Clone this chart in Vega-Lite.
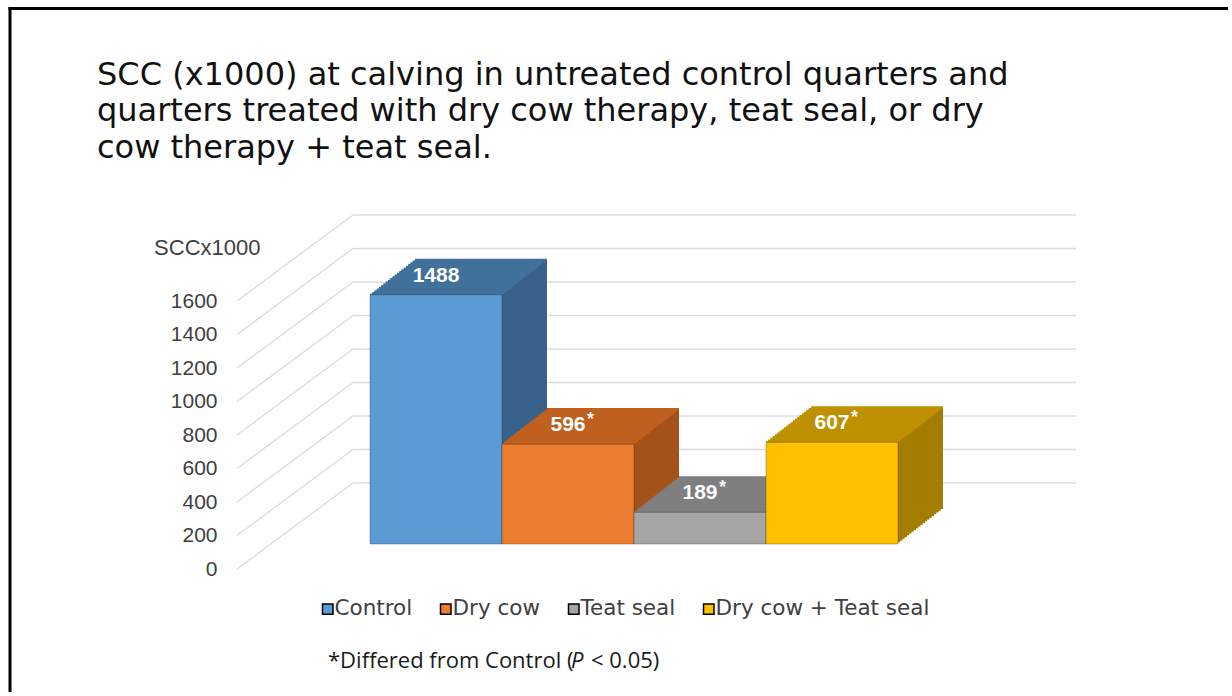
{
  "$schema": "https://vega.github.io/schema/vega-lite/v6.json",
  "width": 528,
  "height": 268,
  "autosize": {"type": "none"},
  "padding": {"left": 370, "top": 276, "right": 334, "bottom": 152},
  "background": "white",
  "config": {"view": {"stroke": null}},
  "title": {
    "text": ["SCC (x1000) at calving in untreated control quarters and", "quarters treated with dry cow therapy, teat seal, or dry", "cow therapy + teat seal."],
    "anchor": "start", "frame": "group", "dx": -273, "dy": 159, "offset": 0,
    "font": "DejaVu Sans", "fontSize": 32, "fontWeight": "normal", "color": "#111111", "lineHeight": 36.5
  },
  "datasets": {
    "grid": [{"v": 0}, {"v": 200}, {"v": 400}, {"v": 600}, {"v": 800}, {"v": 1000}, {"v": 1200}, {"v": 1400}, {"v": 1600}]
  },
  "data": {"values": [
    {"treatment": "Control", "scc": 1488, "label": "1488", "star": ""},
    {"treatment": "Dry cow", "scc": 596, "label": "596", "star": "*"},
    {"treatment": "Teat seal", "scc": 189, "label": "189", "star": "*"},
    {"treatment": "Dry cow + Teat seal", "scc": 607, "label": "607", "star": "*"}
  ]},
  "encoding": {
    "x": {"field": "treatment", "type": "nominal", "axis": null,
      "scale": {"domain": ["Control", "Dry cow", "Teat seal", "Dry cow + Teat seal"], "paddingInner": 0, "paddingOuter": 0}},
    "y": {"field": "scc", "type": "quantitative",
      "scale": {"domain": [0, 1600], "nice": false, "zero": true},
      "axis": {"title": "SCCx1000", "titleAngle": 0, "titleAlign": "right", "titleBaseline": "alphabetic", "titleX": -110, "titleY": -22,
        "titleFont": "Liberation Sans", "titleFontSize": 22, "titleFontWeight": "normal", "titleColor": "#404040",
        "values": [0, 200, 400, 600, 800, 1000, 1200, 1400, 1600], "format": "d", "ticks": false, "domain": false, "grid": false,
        "labelFont": "Liberation Sans", "labelFontSize": 21, "labelColor": "#404040", "labelPadding": 153, "labelOffset": 25,
        "labelFlush": false, "labelOverlap": false}}
  },
  "layer": [
    {"data": {"name": "grid"}, "transform": [{"filter": "datum.v == 1600"}],
     "mark": {"type": "rule", "stroke": "#000000", "strokeWidth": 3, "strokeCap": "butt", "xOffset": -361.5, "x2Offset": 330, "yOffset": -267.5},
     "encoding": {"x": {"datum": "Control", "type": "nominal", "bandPosition": 0}, "x2": {"datum": "Dry cow + Teat seal", "bandPosition": 1}, "y": {"field": "v", "type": "quantitative"}}},
    {"data": {"name": "grid"}, "transform": [{"filter": "datum.v == 1600"}],
     "mark": {"type": "rule", "stroke": "#000000", "strokeWidth": 3, "strokeCap": "butt", "xOffset": -360, "yOffset": -269, "y2Offset": 416},
     "encoding": {"x": {"datum": "Control", "type": "nominal", "bandPosition": 0}, "y": {"field": "v", "type": "quantitative"}, "y2": {"field": "v"}}},
    {"data": {"name": "grid"},
     "mark": {"type": "rule", "color": "#DCDCDC", "strokeWidth": 1.3, "xOffset": -17, "x2Offset": 178, "yOffset": -61},
     "encoding": {"x": {"datum": "Control", "type": "nominal", "bandPosition": 0}, "x2": {"datum": "Dry cow + Teat seal", "bandPosition": 1}, "y": {"field": "v", "type": "quantitative"}}},
    {"data": {"name": "grid"},
     "mark": {"type": "rule", "color": "#DCDCDC", "strokeWidth": 1.3, "xOffset": -133, "x2Offset": -17, "yOffset": 25, "y2Offset": -61},
     "encoding": {"x": {"datum": "Control", "type": "nominal", "bandPosition": 0}, "x2": {"datum": "Control", "bandPosition": 0}, "y": {"field": "v", "type": "quantitative"}, "y2": {"field": "v"}}},

    {"mark": {"type": "bar", "xOffset": 45, "yOffset": -35, "y2Offset": -35}, "encoding": {"fill": {"field": "treatment", "type": "nominal", "legend": null, "scale": {"range": ["#386189", "#A3531A", "#A47C00", "#6E6E6E"]}}}},
    {"mark": {"type": "bar", "xOffset": 42.75, "yOffset": -33.25, "y2Offset": -33.25}, "encoding": {"fill": {"field": "treatment", "type": "nominal", "legend": null}}},
    {"mark": {"type": "bar", "xOffset": 40.5, "yOffset": -31.5, "y2Offset": -31.5}, "encoding": {"fill": {"field": "treatment", "type": "nominal", "legend": null}}},
    {"mark": {"type": "bar", "xOffset": 38.25, "yOffset": -29.75, "y2Offset": -29.75}, "encoding": {"fill": {"field": "treatment", "type": "nominal", "legend": null}}},
    {"mark": {"type": "bar", "xOffset": 36, "yOffset": -28, "y2Offset": -28}, "encoding": {"fill": {"field": "treatment", "type": "nominal", "legend": null}}},
    {"mark": {"type": "bar", "xOffset": 33.75, "yOffset": -26.25, "y2Offset": -26.25}, "encoding": {"fill": {"field": "treatment", "type": "nominal", "legend": null}}},
    {"mark": {"type": "bar", "xOffset": 31.5, "yOffset": -24.5, "y2Offset": -24.5}, "encoding": {"fill": {"field": "treatment", "type": "nominal", "legend": null}}},
    {"mark": {"type": "bar", "xOffset": 29.25, "yOffset": -22.75, "y2Offset": -22.75}, "encoding": {"fill": {"field": "treatment", "type": "nominal", "legend": null}}},
    {"mark": {"type": "bar", "xOffset": 27, "yOffset": -21, "y2Offset": -21}, "encoding": {"fill": {"field": "treatment", "type": "nominal", "legend": null}}},
    {"mark": {"type": "bar", "xOffset": 24.75, "yOffset": -19.25, "y2Offset": -19.25}, "encoding": {"fill": {"field": "treatment", "type": "nominal", "legend": null}}},
    {"mark": {"type": "bar", "xOffset": 22.5, "yOffset": -17.5, "y2Offset": -17.5}, "encoding": {"fill": {"field": "treatment", "type": "nominal", "legend": null}}},
    {"mark": {"type": "bar", "xOffset": 20.25, "yOffset": -15.75, "y2Offset": -15.75}, "encoding": {"fill": {"field": "treatment", "type": "nominal", "legend": null}}},
    {"mark": {"type": "bar", "xOffset": 18, "yOffset": -14, "y2Offset": -14}, "encoding": {"fill": {"field": "treatment", "type": "nominal", "legend": null}}},
    {"mark": {"type": "bar", "xOffset": 15.75, "yOffset": -12.25, "y2Offset": -12.25}, "encoding": {"fill": {"field": "treatment", "type": "nominal", "legend": null}}},
    {"mark": {"type": "bar", "xOffset": 13.5, "yOffset": -10.5, "y2Offset": -10.5}, "encoding": {"fill": {"field": "treatment", "type": "nominal", "legend": null}}},
    {"mark": {"type": "bar", "xOffset": 11.25, "yOffset": -8.75, "y2Offset": -8.75}, "encoding": {"fill": {"field": "treatment", "type": "nominal", "legend": null}}},
    {"mark": {"type": "bar", "xOffset": 9, "yOffset": -7, "y2Offset": -7}, "encoding": {"fill": {"field": "treatment", "type": "nominal", "legend": null}}},
    {"mark": {"type": "bar", "xOffset": 6.75, "yOffset": -5.25, "y2Offset": -5.25}, "encoding": {"fill": {"field": "treatment", "type": "nominal", "legend": null}}},
    {"mark": {"type": "bar", "xOffset": 4.5, "yOffset": -3.5, "y2Offset": -3.5}, "encoding": {"fill": {"field": "treatment", "type": "nominal", "legend": null}}},
    {"mark": {"type": "bar", "xOffset": 2.25, "yOffset": -1.75, "y2Offset": -1.75}, "encoding": {"fill": {"field": "treatment", "type": "nominal", "legend": null}}},

    {"mark": {"type": "bar", "fillOpacity": 0, "strokeWidth": 2.2, "xOffset": 45, "yOffset": -35, "y2Offset": -35}, "encoding": {"y2": {"field": "scc"}, "stroke": {"field": "treatment", "type": "nominal", "legend": null, "scale": {"range": ["#42719C", "#C0611F", "#BF9000", "#7F7F7F"]}}}},
    {"mark": {"type": "bar", "fillOpacity": 0, "strokeWidth": 2.2, "xOffset": 42.75, "yOffset": -33.25, "y2Offset": -33.25}, "encoding": {"y2": {"field": "scc"}, "stroke": {"field": "treatment", "type": "nominal", "legend": null}}},
    {"mark": {"type": "bar", "fillOpacity": 0, "strokeWidth": 2.2, "xOffset": 40.5, "yOffset": -31.5, "y2Offset": -31.5}, "encoding": {"y2": {"field": "scc"}, "stroke": {"field": "treatment", "type": "nominal", "legend": null}}},
    {"mark": {"type": "bar", "fillOpacity": 0, "strokeWidth": 2.2, "xOffset": 38.25, "yOffset": -29.75, "y2Offset": -29.75}, "encoding": {"y2": {"field": "scc"}, "stroke": {"field": "treatment", "type": "nominal", "legend": null}}},
    {"mark": {"type": "bar", "fillOpacity": 0, "strokeWidth": 2.2, "xOffset": 36, "yOffset": -28, "y2Offset": -28}, "encoding": {"y2": {"field": "scc"}, "stroke": {"field": "treatment", "type": "nominal", "legend": null}}},
    {"mark": {"type": "bar", "fillOpacity": 0, "strokeWidth": 2.2, "xOffset": 33.75, "yOffset": -26.25, "y2Offset": -26.25}, "encoding": {"y2": {"field": "scc"}, "stroke": {"field": "treatment", "type": "nominal", "legend": null}}},
    {"mark": {"type": "bar", "fillOpacity": 0, "strokeWidth": 2.2, "xOffset": 31.5, "yOffset": -24.5, "y2Offset": -24.5}, "encoding": {"y2": {"field": "scc"}, "stroke": {"field": "treatment", "type": "nominal", "legend": null}}},
    {"mark": {"type": "bar", "fillOpacity": 0, "strokeWidth": 2.2, "xOffset": 29.25, "yOffset": -22.75, "y2Offset": -22.75}, "encoding": {"y2": {"field": "scc"}, "stroke": {"field": "treatment", "type": "nominal", "legend": null}}},
    {"mark": {"type": "bar", "fillOpacity": 0, "strokeWidth": 2.2, "xOffset": 27, "yOffset": -21, "y2Offset": -21}, "encoding": {"y2": {"field": "scc"}, "stroke": {"field": "treatment", "type": "nominal", "legend": null}}},
    {"mark": {"type": "bar", "fillOpacity": 0, "strokeWidth": 2.2, "xOffset": 24.75, "yOffset": -19.25, "y2Offset": -19.25}, "encoding": {"y2": {"field": "scc"}, "stroke": {"field": "treatment", "type": "nominal", "legend": null}}},
    {"mark": {"type": "bar", "fillOpacity": 0, "strokeWidth": 2.2, "xOffset": 22.5, "yOffset": -17.5, "y2Offset": -17.5}, "encoding": {"y2": {"field": "scc"}, "stroke": {"field": "treatment", "type": "nominal", "legend": null}}},
    {"mark": {"type": "bar", "fillOpacity": 0, "strokeWidth": 2.2, "xOffset": 20.25, "yOffset": -15.75, "y2Offset": -15.75}, "encoding": {"y2": {"field": "scc"}, "stroke": {"field": "treatment", "type": "nominal", "legend": null}}},
    {"mark": {"type": "bar", "fillOpacity": 0, "strokeWidth": 2.2, "xOffset": 18, "yOffset": -14, "y2Offset": -14}, "encoding": {"y2": {"field": "scc"}, "stroke": {"field": "treatment", "type": "nominal", "legend": null}}},
    {"mark": {"type": "bar", "fillOpacity": 0, "strokeWidth": 2.2, "xOffset": 15.75, "yOffset": -12.25, "y2Offset": -12.25}, "encoding": {"y2": {"field": "scc"}, "stroke": {"field": "treatment", "type": "nominal", "legend": null}}},
    {"mark": {"type": "bar", "fillOpacity": 0, "strokeWidth": 2.2, "xOffset": 13.5, "yOffset": -10.5, "y2Offset": -10.5}, "encoding": {"y2": {"field": "scc"}, "stroke": {"field": "treatment", "type": "nominal", "legend": null}}},
    {"mark": {"type": "bar", "fillOpacity": 0, "strokeWidth": 2.2, "xOffset": 11.25, "yOffset": -8.75, "y2Offset": -8.75}, "encoding": {"y2": {"field": "scc"}, "stroke": {"field": "treatment", "type": "nominal", "legend": null}}},
    {"mark": {"type": "bar", "fillOpacity": 0, "strokeWidth": 2.2, "xOffset": 9, "yOffset": -7, "y2Offset": -7}, "encoding": {"y2": {"field": "scc"}, "stroke": {"field": "treatment", "type": "nominal", "legend": null}}},
    {"mark": {"type": "bar", "fillOpacity": 0, "strokeWidth": 2.2, "xOffset": 6.75, "yOffset": -5.25, "y2Offset": -5.25}, "encoding": {"y2": {"field": "scc"}, "stroke": {"field": "treatment", "type": "nominal", "legend": null}}},
    {"mark": {"type": "bar", "fillOpacity": 0, "strokeWidth": 2.2, "xOffset": 4.5, "yOffset": -3.5, "y2Offset": -3.5}, "encoding": {"y2": {"field": "scc"}, "stroke": {"field": "treatment", "type": "nominal", "legend": null}}},
    {"mark": {"type": "bar", "fillOpacity": 0, "strokeWidth": 2.2, "xOffset": 2.25, "yOffset": -1.75, "y2Offset": -1.75}, "encoding": {"y2": {"field": "scc"}, "stroke": {"field": "treatment", "type": "nominal", "legend": null}}},
    {"mark": {"type": "bar", "fillOpacity": 0, "strokeWidth": 2.2}, "encoding": {"y2": {"field": "scc"}, "stroke": {"field": "treatment", "type": "nominal", "legend": null}}},

    {"mark": {"type": "bar", "stroke": "#000000", "strokeOpacity": 0.25, "strokeWidth": 1},
     "encoding": {"color": {"field": "treatment", "type": "nominal",
       "scale": {"domain": ["Control", "Dry cow", "Teat seal", "Dry cow + Teat seal"], "range": ["#5B9BD5", "#ED7D31", "#A5A5A5", "#FFC000"]},
       "legend": {"orient": "none", "legendX": -53, "legendY": 322, "direction": "horizontal", "title": null,
         "symbolType": "square", "symbolSize": 110, "labelLimit": 400,
         "labelFont": "DejaVu Sans", "labelFontSize": 21.5, "labelColor": "#404040", "labelOffset": -4, "columnPadding": 22}}}},

    {"mark": {"type": "text", "font": "Liberation Sans", "fontWeight": "bold", "fontSize": 21, "fill": "#FFFFFF", "baseline": "middle", "align": "center", "yOffset": -19},
     "encoding": {"text": {"field": "label"}}},
    {"mark": {"type": "text", "font": "Liberation Sans", "fontWeight": "bold", "fontSize": 18, "fill": "#F2F2F2", "baseline": "middle", "align": "left", "xOffset": 19, "yOffset": -24},
     "encoding": {"text": {"field": "star"}}},

    {"data": {"name": "grid"}, "transform": [{"filter": "datum.v == 0"}],
     "mark": {"type": "text", "text": "*Differed from Control (", "font": "Open Sans", "fontSize": 22, "fill": "#1A1A1A", "align": "left", "baseline": "alphabetic", "xOffset": -42, "yOffset": 124},
     "encoding": {"x": {"datum": "Control", "type": "nominal", "bandPosition": 0}, "y": {"field": "v", "type": "quantitative"}}},
    {"data": {"name": "grid"}, "transform": [{"filter": "datum.v == 0"}],
     "mark": {"type": "text", "text": "P", "font": "Open Sans", "fontSize": 22, "fontStyle": "italic", "fill": "#1A1A1A", "align": "left", "baseline": "alphabetic", "xOffset": 201, "yOffset": 124},
     "encoding": {"x": {"datum": "Control", "type": "nominal", "bandPosition": 0}, "y": {"field": "v", "type": "quantitative"}}},
    {"data": {"name": "grid"}, "transform": [{"filter": "datum.v == 0"}],
     "mark": {"type": "text", "text": "< 0.05)", "font": "Open Sans", "fontSize": 22, "fill": "#1A1A1A", "align": "left", "baseline": "alphabetic", "xOffset": 221, "yOffset": 124},
     "encoding": {"x": {"datum": "Control", "type": "nominal", "bandPosition": 0}, "y": {"field": "v", "type": "quantitative"}}}
  ]
}
